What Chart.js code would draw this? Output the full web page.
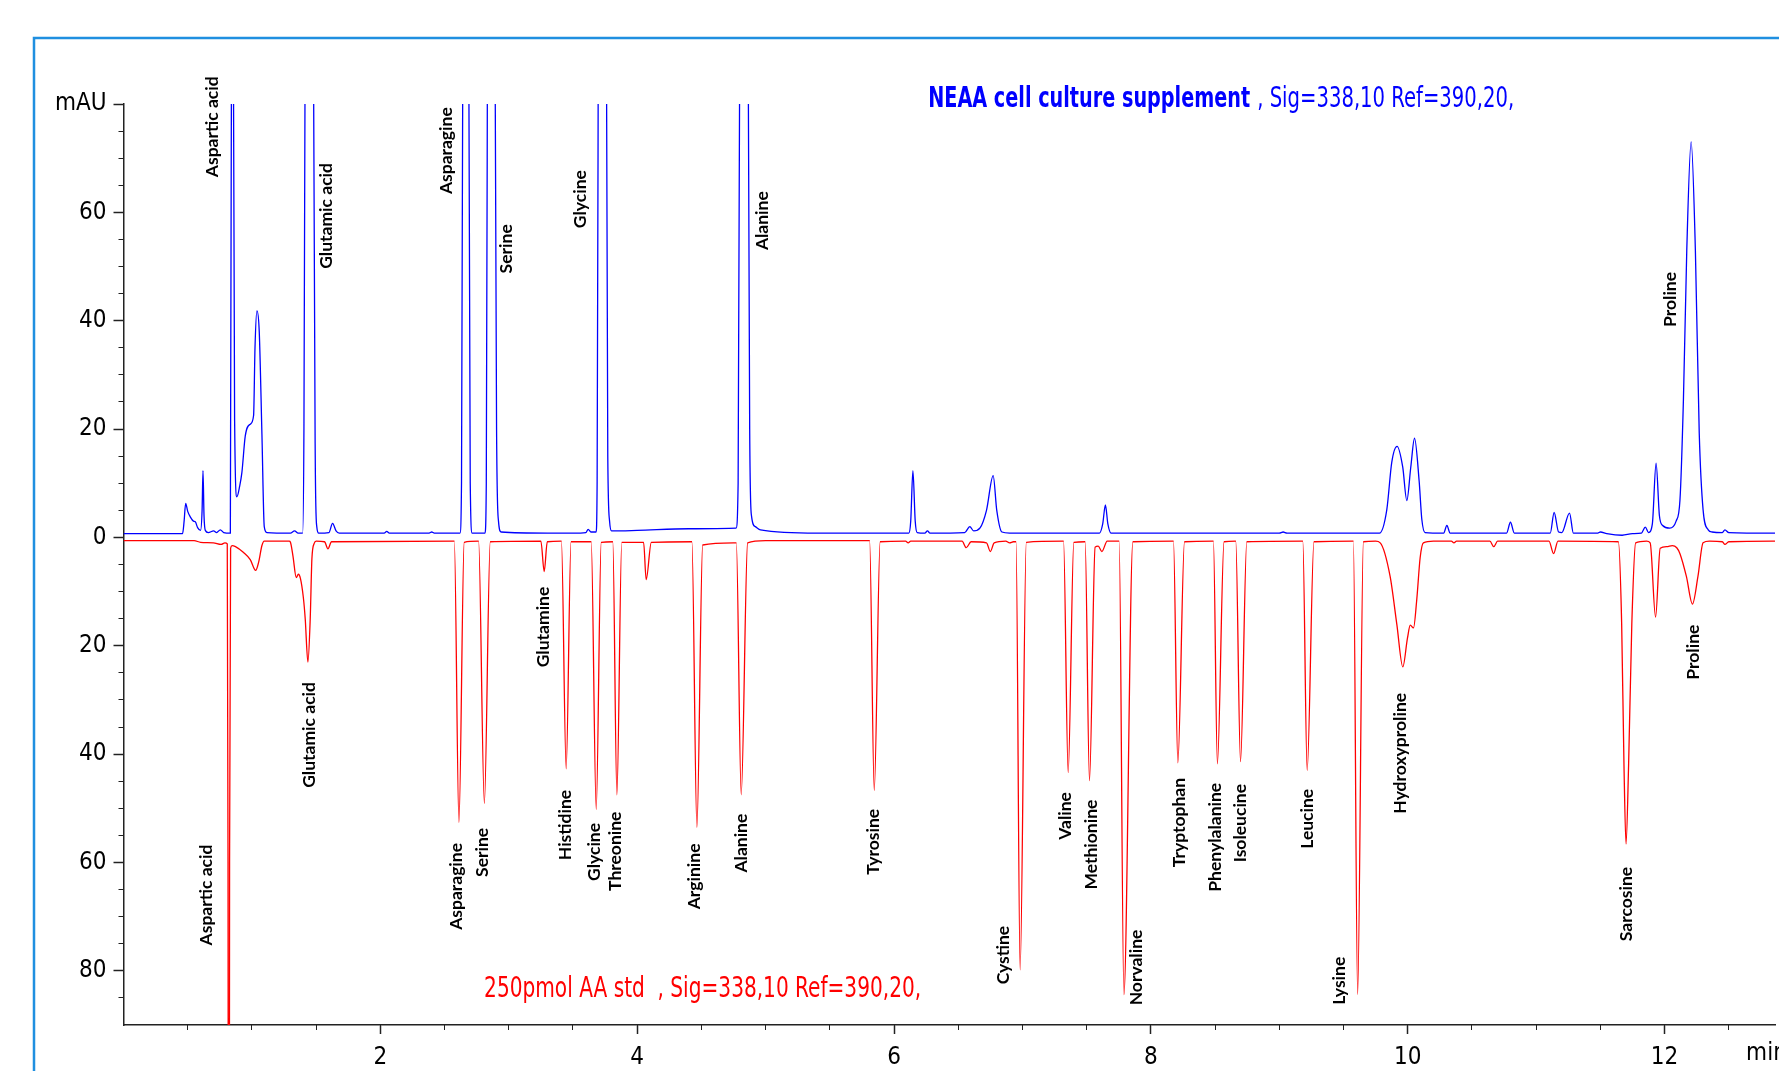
<!DOCTYPE html>
<html>
<head>
<meta charset="utf-8">
<title>NEAA cell culture supplement vs 250pmol AA std</title>
<script src="https://cdn.jsdelivr.net/npm/chart.js@4.4.1/dist/chart.umd.min.js"></script>
<style>
  html, body { margin: 0; padding: 0; background: #fff; }
  #wrap { width: 1779px; height: 1071px; }
</style>
</head>
<body>
<div id="wrap"><canvas id="chrom" width="1779" height="1071"></canvas></div>
<script>
// NEAA sample trace (blue), retention time in min / signal in mAU
var sampleTime = [0.00, 0.46, 0.472, 0.484, 0.50, 0.52, 0.545, 0.559, 0.577, 0.60, 0.612, 0.619, 0.627, 0.637, 0.66, 0.702, 0.725, 0.754, 0.78,
  0.832, 0.840, 0.849, 0.857, 0.866, 0.883, 0.905, 0.922, 0.948, 0.987, 1.013, 1.024, 1.039, 1.057, 1.078, 1.096, 1.117,
  1.30, 1.332, 1.36, 1.395, 1.405, 1.413, 1.447, 1.481, 1.493, 1.505, 1.52, 1.60, 1.628, 1.655, 1.68,
  2.03, 2.05, 2.07, 2.38, 2.40, 2.42, 2.62, 2.632, 2.641, 2.665, 2.690, 2.700, 2.715,
  2.815, 2.825, 2.833, 2.864, 2.895, 2.905, 2.92, 2.94, 3.30, 3.50, 3.60, 3.618, 3.64,
  3.68, 3.688, 3.696, 3.728, 3.762, 3.771, 3.785, 3.80, 4.00, 4.40, 4.77, 4.786, 4.797, 4.832, 4.866, 4.876, 4.89, 4.92, 4.96, 5.40,
  6.115, 6.13, 6.147, 6.165, 6.18, 6.24, 6.26, 6.28, 6.55, 6.59, 6.62, 6.67, 6.72, 6.772, 6.80, 6.84, 6.90,
  7.60, 7.625, 7.646, 7.665, 7.69, 9.00, 9.03, 9.06,
  9.78, 9.837, 9.876, 9.917, 9.961, 9.993, 10.024, 10.053, 10.089, 10.11, 10.135, 10.28, 10.305, 10.33, 10.77, 10.80, 10.83,
  11.11, 11.14, 11.175, 11.20, 11.26, 11.29, 11.48, 11.50, 11.55, 11.67, 11.75, 11.82, 11.85, 11.875, 11.905, 11.934, 11.96, 11.985,
  12.04, 12.09, 12.12, 12.147, 12.173, 12.207, 12.24, 12.27, 12.30, 12.34, 12.37, 12.45, 12.47, 12.50, 12.86];
var sampleMau = [0.7, 0.7, 3.0, 6.3, 4.8, 3.8, 3.0, 2.9, 1.8, 1.3, 5, 12.3, 4, 1.3, 0.9, 1.2, 0.9, 1.4, 0.9,
  0.8, 80, 300, 80, 20, 7.5, 9.5, 12, 18.7, 20.9, 22.5, 35, 41.8, 38, 19, 2, 0.9,
  0.8, 1.2, 0.8, 0.8, 20, 80, 600, 80, 15, 2, 0.8, 0.9, 2.6, 1.2, 0.8,
  0.8, 1.1, 0.8, 0.8, 1.0, 0.8, 0.8, 10, 80, 500, 80, 10, 0.8,
  0.8, 10, 80, 500, 80, 20, 3, 1.0, 0.8, 0.8, 0.9, 1.5, 1.0,
  1.0, 10, 80, 500, 80, 15, 3, 1.2, 1.3, 1.6, 1.7, 10, 80, 500, 80, 20, 4, 2.0, 1.4, 0.8,
  0.8, 3, 12.3, 3, 0.9, 0.8, 1.2, 0.8, 0.9, 2.0, 1.2, 1.75, 5, 11.4, 5, 1.0, 0.8,
  0.8, 2.5, 6.0, 2.5, 0.8, 0.8, 1.0, 0.8,
  0.8, 5.1, 13.9, 16.8, 13, 6.8, 13, 18.3, 10.4, 3.3, 0.9, 0.8, 2.2, 0.8, 0.8, 2.8, 0.8,
  0.8, 4.6, 1.0, 0.9, 4.5, 0.8, 0.8, 1.0, 0.7, 0.4, 0.7, 0.8, 1.9, 0.9, 2.5, 13.7, 4, 2.2,
  1.7, 3.0, 6.9, 25.5, 53, 73, 53, 19.3, 5.1, 1.4, 1.0, 0.9, 1.4, 0.9, 0.8];

// 250 pmol amino acid standard trace (red), drawn mirrored below zero
var stdTime = [0.00, 0.55, 0.60, 0.70, 0.76, 0.79, 0.808, 0.814, 0.820, 0.826, 0.834, 0.846, 0.872, 0.935, 0.987, 1.029, 1.052, 1.078, 1.096,
  1.29, 1.30, 1.32, 1.345, 1.362, 1.378, 1.40, 1.415, 1.436, 1.454, 1.467, 1.485, 1.50, 1.565, 1.592, 1.62,
  2.576, 2.612, 2.653, 2.765, 2.81, 2.856, 3.25, 3.276, 3.30, 3.41, 3.447, 3.485, 3.642, 3.681, 3.72, 3.81, 3.842, 3.88,
  4.05, 4.07, 4.11, 4.426, 4.465, 4.51, 4.75, 4.772, 4.81, 4.86, 5.00, 5.81, 5.846, 5.892, 6.09, 6.11, 6.13,
  6.53, 6.562, 6.60, 6.72, 6.75, 6.78, 6.87, 6.90, 6.93, 6.95, 6.982, 7.03, 7.32, 7.356, 7.40, 7.488, 7.522, 7.566, 7.59, 7.618, 7.66,
  7.753, 7.79, 7.86, 8.176, 8.21, 8.262, 8.487, 8.518, 8.57, 8.661, 8.698, 8.747, 9.183, 9.217, 9.27, 9.577, 9.61, 9.655,
  9.75, 9.786, 9.863, 9.915, 9.962, 9.998, 10.02, 10.045, 10.07, 10.097, 10.122, 10.20, 10.34, 10.36, 10.38, 10.64, 10.67, 10.70,
  11.10, 11.136, 11.17, 11.64, 11.666, 11.684, 11.70, 11.72, 11.745, 11.775, 11.86, 11.888, 11.93, 11.966,
  12.017, 12.06, 12.095, 12.12, 12.17, 12.217, 12.26, 12.30, 12.35, 12.45, 12.47, 12.50, 12.86];
var stdMau = [0.6, 0.6, 0.9, 1.0, 1.3, 1.0, 1.2, 60, 250, 60, 2, 1.5, 1.7, 2.8, 4.1, 6.1, 4.6, 1.5, 0.7,
  0.7, 0.9, 3.5, 7.4, 6.8, 7.6, 11, 15, 23, 15, 4, 1.1, 0.7, 0.8, 2.1, 0.8,
  0.7, 52.6, 0.9, 0.7, 49.1, 0.8, 0.7, 6.3, 0.8, 0.7, 42.7, 0.8, 0.8, 50.2, 0.9, 0.8, 47.5, 0.9,
  0.9, 7.8, 0.9, 0.8, 53.5, 1.4, 1.0, 1.0, 47.5, 1.0, 0.6, 0.6, 46.7, 0.8, 0.7, 1.0, 0.7,
  0.7, 1.9, 0.8, 1.0, 2.6, 1.0, 0.7, 1.0, 0.8, 0.8, 79.8, 0.9, 0.7, 43.4, 0.9, 0.8, 44.9, 1.8, 1.6, 2.6, 0.7,
  0.7, 84.4, 0.8, 0.7, 41.6, 0.8, 0.7, 41.8, 0.8, 0.7, 41.4, 0.8, 0.7, 43, 0.8, 0.7, 84.4, 0.8,
  0.7, 1.0, 7.2, 16, 23.9, 18.6, 16.2, 16.7, 11.6, 3.7, 1.0, 0.7, 0.7, 1.0, 0.7, 0.7, 1.7, 0.7,
  0.7, 3.0, 0.7, 0.8, 16, 42, 56.6, 42, 16, 1.0, 0.7, 1.0, 14.7, 2.0,
  1.7, 1.5, 1.9, 3, 7.2, 12.3, 7.2, 1.0, 0.7, 0.8, 1.3, 0.8, 0.7];

// axis labels
var xTickLabels = [2, 4, 6, 8, 10, 12];
var yTickLabels = [80, 60, 40, 20, 0, -20, -40, -60, -80];

// peak names: retention time of the label and the mAU level where its text ends
var sampleNames = ['Aspartic acid', 'Glutamic acid', 'Asparagine', 'Serine', 'Glycine', 'Alanine', 'Proline'];
var sampleNameTime = [0.691, 1.579, 2.513, 2.980, 3.556, 4.973, 12.042];
var sampleNameTop = [85.1, 69.1, 79.4, 57.8, 67.8, 63.9, 49.0];

var stdNames = ['Aspartic acid', 'Glutamic acid', 'Asparagine', 'Serine', 'Glutamine', 'Histidine', 'Glycine', 'Threonine',
  'Arginine', 'Alanine', 'Tyrosine', 'Cystine', 'Valine', 'Methionine', 'Norvaline', 'Tryptophan', 'Phenylalanine',
  'Isoleucine', 'Leucine', 'Lysine', 'Hydroxyproline', 'Sarcosine', 'Proline'];
var stdNameTime = [0.645, 1.447, 2.591, 2.794, 3.268, 3.440, 3.666, 3.829, 4.444, 4.810, 5.838, 6.850, 7.333, 7.535,
  7.885, 8.220, 8.500, 8.695, 9.217, 9.466, 9.941, 11.70, 12.222];
var stdNameTop = [56.7, 26.7, 56.4, 53.6, 9.1, 46.6, 52.7, 50.6, 56.5, 51.0, 50.1, 71.7, 47.0, 48.4, 72.4, 44.4, 45.3,
  45.5, 46.4, 77.4, 28.7, 60.8, 16.1];

var narrow = "'DejaVu Sans Condensed', 'DejaVu Sans', sans-serif";
var peakFont = "bold 17.5px Lato, 'Open Sans', sans-serif";

var annotate = {
  id: 'annotate',
  beforeDraw: function (chart) {
    var ctx = chart.ctx;
    ctx.save();
    ctx.strokeStyle = '#1f8fe0';
    ctx.lineWidth = 2.5;
    ctx.strokeRect(34, 38, 1800, 1100);
    ctx.restore();
  },
  afterDraw: function (chart) {
    var ctx = chart.ctx;
    var x = chart.scales.x;
    var y = chart.scales.y;
    ctx.save();
    ctx.fillStyle = '#000';
    ctx.font = peakFont;
    ctx.textAlign = 'right';
    ctx.textBaseline = 'middle';
    function vlabel(txt, t, v) {
      ctx.save();
      ctx.translate(x.getPixelForValue(t), y.getPixelForValue(v));
      ctx.rotate(-Math.PI / 2);
      ctx.fillText(txt, 0, 0);
      ctx.restore();
    }
    sampleNames.forEach(function (n, i) { vlabel(n, sampleNameTime[i], sampleNameTop[i]); });
    stdNames.forEach(function (n, i) { vlabel(n, stdNameTime[i], -stdNameTop[i]); });

    // trace titles, squeezed to the condensed face used by the instrument software
    ctx.textAlign = 'left';
    ctx.textBaseline = 'alphabetic';
    function squeezed(txt, px, py, width) {
      var k = width / ctx.measureText(txt).width;
      ctx.save();
      ctx.translate(px, py);
      ctx.scale(k, 1);
      ctx.fillText(txt, 0, 0);
      ctx.restore();
    }
    var bx = x.getPixelForValue(6.266), by = y.getPixelForValue(79.4);
    ctx.fillStyle = '#0000ff';
    ctx.font = 'bold condensed 28px ' + narrow;
    squeezed('NEAA cell culture supplement', bx, by, 322);
    ctx.font = 'condensed 28px ' + narrow;
    squeezed(', Sig=338,10 Ref=390,20,', bx + 329, by, 257);
    ctx.fillStyle = '#ff0000';
    squeezed('250pmol AA std  , Sig=338,10 Ref=390,20,', x.getPixelForValue(2.808), y.getPixelForValue(-84.8), 437);

    // axis unit
    ctx.fillStyle = '#000';
    ctx.font = 'condensed 24px ' + narrow;
    ctx.textBaseline = 'top';
    ctx.fillText('min', x.getPixelForValue(12.635), chart.chartArea.bottom + 17);
    ctx.restore();
  }
};

var axisColor = '#222';
// weight slot also carries the condensed stretch keyword into the canvas font string
var tickFont = { family: narrow, size: 24, weight: 'normal condensed' };

var minorY = [];
for (var v = -85; v <= 80; v += 5) minorY.push({ value: v });
var minorX = [];
for (var m = 0.5; m <= 12.5; m += 0.5) minorX.push({ value: m });

new Chart(document.getElementById('chrom'), {
  type: 'line',
  data: {
    datasets: [
      {
        label: 'NEAA cell culture supplement',
        data: sampleTime.map(function (t, i) { return { x: t, y: sampleMau[i] }; }),
        borderColor: '#0000ff',
        borderWidth: 1.3,
        pointRadius: 0,
        fill: false,
        cubicInterpolationMode: 'monotone'
      },
      {
        label: '250pmol AA std',
        data: stdTime.map(function (t, i) { return { x: t, y: -stdMau[i] }; }),
        borderColor: '#ff0000',
        borderWidth: 1.3,
        pointRadius: 0,
        fill: false,
        cubicInterpolationMode: 'monotone'
      }
    ]
  },
  options: {
    responsive: false,
    animation: false,
    devicePixelRatio: 1,
    events: [],
    layout: { padding: { left: 0, right: 4, top: 104, bottom: 0 } },
    plugins: { legend: { display: false }, tooltip: { enabled: false } },
    scales: {
      x: {
        type: 'linear', position: 'bottom', min: 0, max: 12.86, weight: 1,
        afterBuildTicks: function (s) { s.ticks = xTickLabels.map(function (v) { return { value: v }; }); },
        afterFit: function (s) { s.height = 46; },
        grid: { drawOnChartArea: false, tickLength: 9, tickWidth: 1.5, tickColor: axisColor },
        border: { color: axisColor, width: 1.5 },
        ticks: { color: '#000', font: tickFont, padding: 9, maxRotation: 0, autoSkip: false }
      },
      xMinor: {
        type: 'linear', position: 'bottom', min: 0, max: 12.86, weight: 0,
        afterBuildTicks: function (s) { s.ticks = minorX.slice(); },
        afterFit: function (s) { s.height = 0; },
        grid: { drawOnChartArea: false, tickLength: 5, tickWidth: 1, tickColor: axisColor },
        border: { display: false },
        ticks: { display: false }
      },
      y: {
        type: 'linear', position: 'left', min: -90, max: 80, weight: 1,
        afterBuildTicks: function (s) { s.ticks = yTickLabels.map(function (v) { return { value: v }; }); },
        afterFit: function (s) { s.width = 123.5; },
        grid: { drawOnChartArea: false, tickLength: 10, tickWidth: 1.5, tickColor: axisColor },
        border: { color: axisColor, width: 1.5 },
        ticks: {
          color: '#000', font: tickFont, padding: 7, autoSkip: false,
          callback: function (v) { return v === 80 ? 'mAU' : String(Math.abs(v)); }
        }
      },
      yMinor: {
        type: 'linear', position: 'left', min: -90, max: 80, weight: 0,
        afterBuildTicks: function (s) { s.ticks = minorY.slice(); },
        afterFit: function (s) { s.width = 0; },
        grid: { drawOnChartArea: false, tickLength: 5, tickWidth: 1, tickColor: axisColor },
        border: { display: false },
        ticks: { display: false }
      }
    }
  },
  plugins: [annotate]
});
</script>
</body>
</html>
